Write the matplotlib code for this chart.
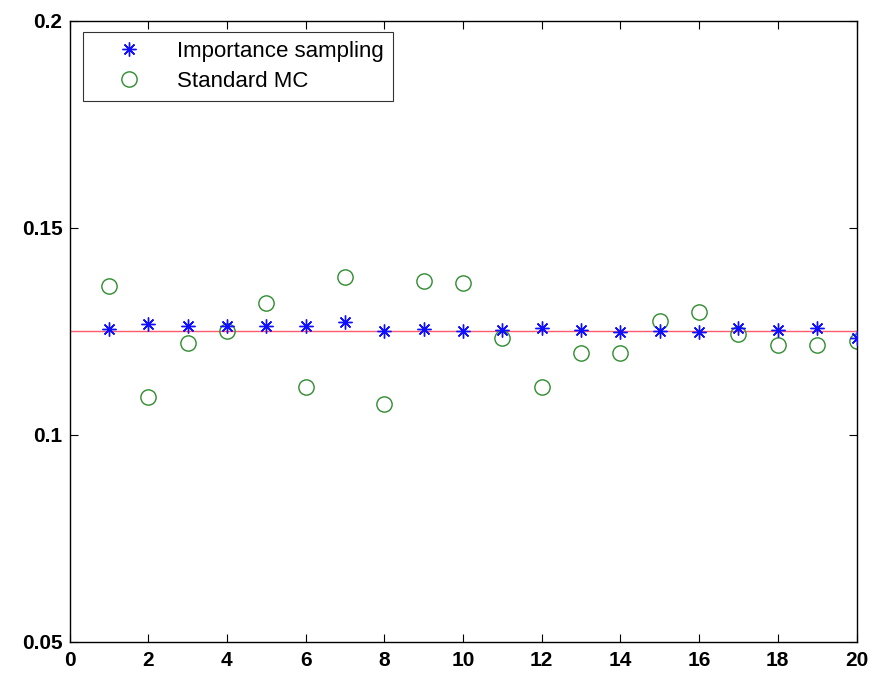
import matplotlib.pyplot as plt
import numpy as np

plt.rcParams['font.family'] = ['Liberation Sans', 'DejaVu Sans']

# run index
runs = np.arange(1, 21)

# estimates
importance = [0.1256, 0.1268, 0.1262, 0.1262, 0.1262, 0.1261, 0.1272, 0.1250, 0.1256, 0.1250,
              0.1252, 0.1258, 0.1253, 0.1247, 0.1250, 0.1247, 0.1257, 0.1252, 0.1258, 0.1233]
standard_mc = [0.1359, 0.1091, 0.1220, 0.1250, 0.1318, 0.1115, 0.1381, 0.1073, 0.1371, 0.1365,
               0.1232, 0.1114, 0.1196, 0.1196, 0.1274, 0.1296, 0.1242, 0.1215, 0.1215, 0.1227]
true_value = 0.125

W, H = 871, 675
left, right, top, bottom = 69.5, 856.5, 20.5, 641.5

fig = plt.figure(figsize=(W / 100, H / 100), dpi=100)
ax = fig.add_axes([left / W, 1 - bottom / H, (right - left) / W, (bottom - top) / H])

ax.plot([0, 20], [true_value, true_value], color='#ff5a6e', lw=1.0, zorder=1)
ax.plot(runs, importance, linestyle='none', marker=(8, 2, 0), markersize=10,
        markeredgewidth=1.0, color='#1010ff', label='Importance sampling', zorder=3)
ax.plot(runs, standard_mc, linestyle='none', marker='o', markersize=11,
        markerfacecolor='none', markeredgecolor='#2e8b2e', markeredgewidth=1.0,
        label='Standard MC', zorder=2)

ax.set_xlim(0, 20)
ax.set_ylim(0.05, 0.2)
ax.set_xticks(np.arange(0, 21, 2))
ax.set_yticks([0.05, 0.1, 0.15, 0.2])
ax.set_yticklabels(['0.05', '0.1', '0.15', '0.2'])
ax.tick_params(direction='in', top=True, right=True, length=6, width=0.8,
               labelsize=15)
ax.tick_params(axis='x', pad=7)
ax.tick_params(axis='y', pad=5)
for lab in ax.get_xticklabels() + ax.get_yticklabels():
    lab.set_fontweight('bold')
for sp in ax.spines.values():
    sp.set_linewidth(1.0)

leg = ax.legend(loc='upper left',
                bbox_to_anchor=((83 - left) / (right - left), 1 - (32 - top) / (bottom - top)),
                fontsize=16, frameon=True, fancybox=False, edgecolor='black',
                borderpad=0.4, handlelength=3.3, handletextpad=0.55,
                labelspacing=0.4, borderaxespad=0)
leg.get_frame().set_linewidth(0.8)

plt.savefig('out.png', dpi=100)
plt.close()
